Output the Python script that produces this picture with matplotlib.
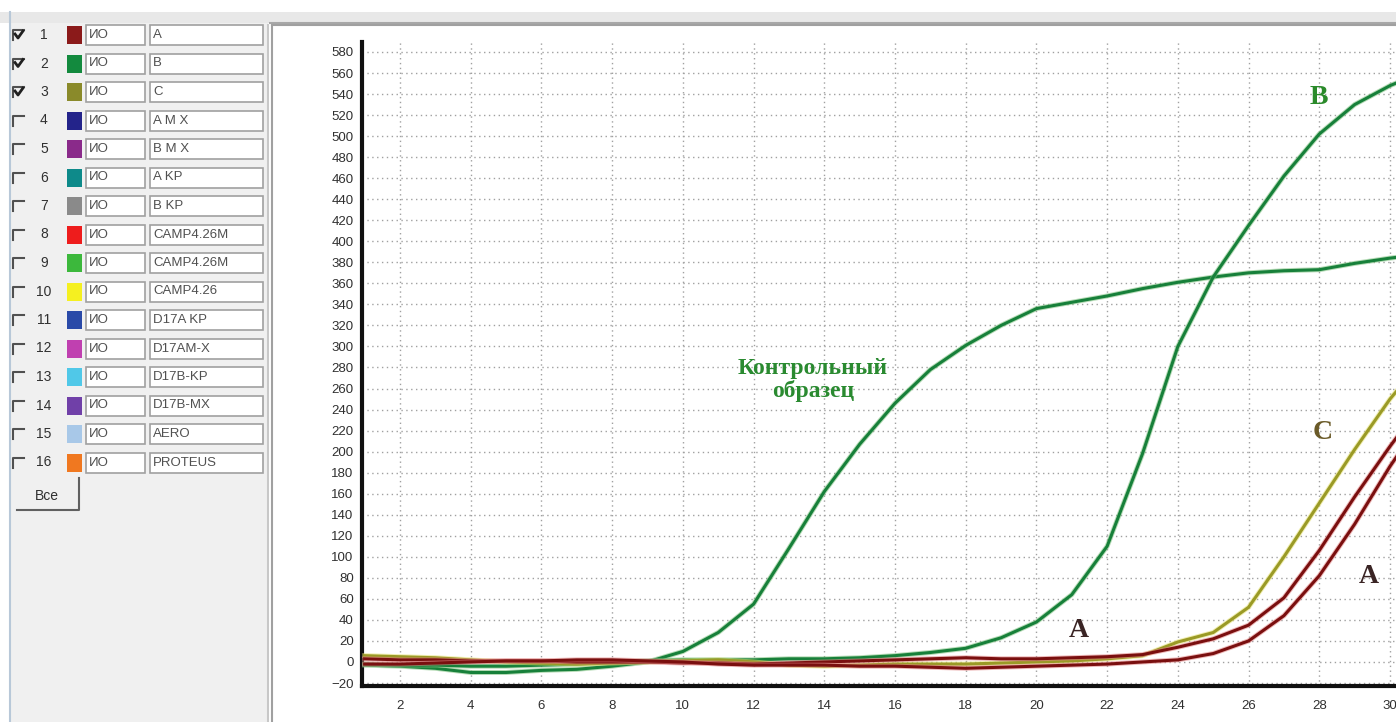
import numpy as np
import matplotlib
matplotlib.use('Agg')
import matplotlib.pyplot as plt
import matplotlib.patheffects as pe
from matplotlib.patches import Rectangle

W, H = 1396, 722

# amplification curves, fluorescence per cycle
cycles = list(range(1, 32))
control = [-3, -4, -6, -10, -10, -8, -7, -4, 0, 10, 28, 55, 108, 162, 207, 246,
           278, 301, 320, 336, 342, 348, 355, 361, 366, 370, 372, 373, 379, 384, 388]
sample_b = [-2, -3, -3, -4, -4, -3, -2, 0, 1, 2, 2, 2, 3, 3, 4, 6,
            9, 13, 23, 38, 64, 110, 198, 300, 366, 415, 462, 502, 530, 548, 562]
sample_c = [6, 5, 4, 2, 0, -1, -2, -1, 0, 1, 2, 0, -3, -4, -3, -2,
            -2, -2, -1, 0, 1, 3, 6, 19, 28, 52, 100, 151, 202, 250, 290]
sample_a1 = [3, 2, 2, 1, 1, 1, 0, 0, 0, -1, -1, -2, -1, 0, 1, 2,
             3, 4, 3, 3, 4, 5, 7, 14, 22, 35, 61, 106, 157, 205, 250]
sample_a2 = [-2, -2, -1, 0, 1, 1, 2, 2, 1, 0, -2, -3, -3, -3, -4, -4,
             -5, -6, -5, -4, -3, -2, 0, 2, 8, 20, 44, 82, 131, 186, 235]

y_ticks = list(range(-20, 581, 20))
x_ticks = list(range(2, 31, 2))

# channel list on the left panel
row_nums = list(range(1, 17))
row_checked = [True, True, True] + [False] * 13
row_colors = ['#8b1a1a', '#138a3e', '#8a8a2a', '#23238a', '#8a2a8a', '#0e8a8a',
              '#8a8a8a', '#ee1c1c', '#3cb83c', '#f5f020', '#2a4aa8', '#c040b0',
              '#50c8e8', '#7040a8', '#a8c8e8', '#f07820']
row_dyes = ['ИО'] * 16
row_names = ['A', 'B', 'C', 'A M X', 'B M X', 'A KP', 'B KP', 'CAMP4.26M',
             'CAMP4.26M', 'CAMP4.26', 'D17A KP', 'D17AM-X', 'D17B-KP',
             'D17B-MX', 'AERO', 'PROTEUS']

GREEN = '#17803a'
OLIVE = '#9a9a26'
DARKRED = '#7a0f0f'

fig = plt.figure(figsize=(W / 100, H / 100), dpi=100)
fig.patch.set_facecolor('white')

# --- window chrome, drawn in pixel coordinates ---
ui = fig.add_axes([0, 0, 1, 1])
ui.set_xlim(0, W); ui.set_ylim(H, 0); ui.axis('off')

ui.add_patch(Rectangle((10, 12), 258, H - 12, fc='#f0f0f0', ec='none'))
ui.plot([10, 10], [12, H], color='#b8c8d8', lw=1.5)
ui.add_patch(Rectangle((0, 12), W, 11, fc='#e8e8e8', ec='none'))
ui.plot([270, W], [23, 23], color='#a8a8a8', lw=1.5)
ui.add_patch(Rectangle((272, 25), W - 272, H - 25, fc='white', ec='none'))
ui.plot([268, 268], [25, H], color='#c8c8c8', lw=1.5)
ui.plot([272, 272], [25, H], color='#a0a0a0', lw=1.5)
ui.plot([272, W], [25, 25], color='#a0a0a0', lw=1.5)

for i, (num, chk, col, dye, name) in enumerate(zip(row_nums, row_checked, row_colors,
                                                   row_dyes, row_names)):
    r = 35 + i * 28.5
    ui.plot([13, 13, 24], [r + 5, r - 5, r - 5], color='#505050', lw=1.5)
    if chk:
        ui.plot([15, 18, 23], [r - 1, r + 3, r - 4], color='#202020', lw=2)
    ui.text(44, r, str(num), ha='center', va='center', fontsize=10,
            color='#303030', family='Liberation Sans')
    ui.add_patch(Rectangle((67, r - 9), 15, 18, fc=col, ec='none'))
    ui.add_patch(Rectangle((86, r - 10), 59, 20, fc='white', ec='#a0a0a0', lw=1.2))
    ui.text(89, r, dye, ha='left', va='center', fontsize=9.5, color='#505050',
            family='Liberation Sans')
    ui.add_patch(Rectangle((150, r - 10), 113, 20, fc='white', ec='#a0a0a0', lw=1.2))
    ui.text(153, r, name, ha='left', va='center', fontsize=9.5, color='#505050',
            family='Liberation Sans')

ui.add_patch(Rectangle((17, 482), 62, 28, fc='#f0f0f0', ec='none'))
ui.plot([17, 79, 79], [510, 510, 478], color='#606060', lw=1.5)
ui.text(47, 496, 'Все', ha='center', va='center', fontsize=10, color='#303030',
        family='Liberation Sans')

# --- amplification plot ---
ax = fig.add_axes([362 / W, (H - 686) / H, (W - 362) / W, (686 - 42) / H])
ax.set_facecolor('none')
ax.set_xlim(0.925, 30.17)
ax.set_ylim(-22.85, 589.5)

def curve(y, color, halo):
    ax.plot(cycles, y, color=color, lw=2.2, zorder=3,
            path_effects=[pe.Stroke(linewidth=3.6, foreground=halo, alpha=0.55),
                          pe.Normal()])

curve(control, GREEN, '#7cc07c')
curve(sample_b, GREEN, '#7cc07c')
curve(sample_c, OLIVE, '#e4e070')
curve(sample_a1, DARKRED, '#e08080')
curve(sample_a2, DARKRED, '#e08080')

ax.set_xticks(x_ticks)
ax.set_yticks(y_ticks)
ax.grid(True, color='#a0a0a0', linestyle=(0, (1, 2.5)), lw=1.0, zorder=0)
ax.tick_params(length=0, labelsize=9.5, labelcolor='#303030')
ax.tick_params(axis='x', pad=10)
ax.tick_params(axis='y', pad=6)
for lab in ax.get_xticklabels() + ax.get_yticklabels():
    lab.set_family('Liberation Sans')
for s in ['top', 'right']:
    ax.spines[s].set_visible(False)
for s in ['left', 'bottom']:
    ax.spines[s].set_linewidth(3)
    ax.spines[s].set_color('#101010')

serif = dict(family='Liberation Serif', fontweight='bold', ha='center', va='center',
             zorder=5)
ax.text(28.0, 537, 'B', color='#2a8a2a', fontsize=20, **serif)
ax.text(28.1, 218, 'C', color='#6a5a28', fontsize=20, **serif)
ax.text(21.2, 30, 'A', color='#3a2424', fontsize=20, **serif)
ax.text(29.4, 81, 'A', color='#3a2424', fontsize=20, **serif)
ax.text(13.68, 268, 'Контрольный\nобразец', color='#2a8a30', fontsize=17,
        linespacing=1.1, **serif)

fig.savefig('out.png', dpi=100, facecolor='white')
